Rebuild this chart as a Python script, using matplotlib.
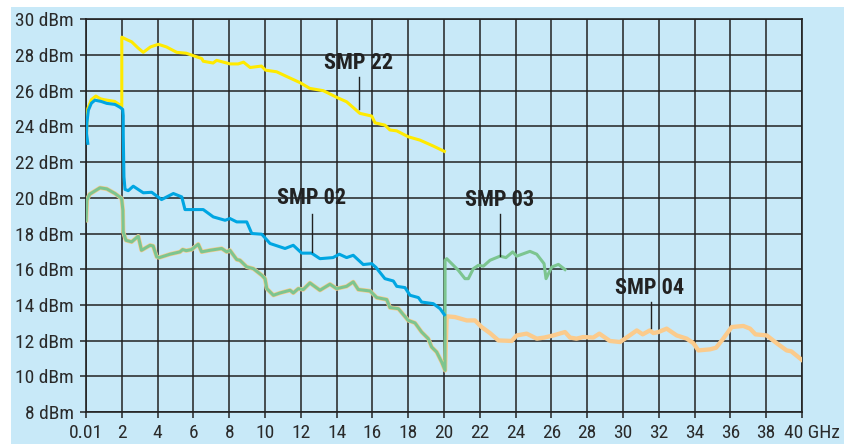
import matplotlib
matplotlib.use("Agg")
import matplotlib.pyplot as plt
from matplotlib.patches import Rectangle
from matplotlib.transforms import ScaledTranslation
from matplotlib import font_manager

# ---------------- data ----------------
xticks = [0, 2, 4, 6, 8, 10, 12, 14, 16, 18, 20, 22, 24, 26, 28, 30, 32, 34, 36, 38, 40]
xtick_labels = ["0.01", "2", "4", "6", "8", "10", "12", "14", "16", "18", "20",
                "22", "24", "26", "28", "30", "32", "34", "36", "38", "40 GHz"]
yticks = [8, 10, 12, 14, 16, 18, 20, 22, 24, 26, 28, 30]
ytick_labels = [f"{v} dBm" for v in yticks]

smp22_x = [0.02, 0.05, 0.1, 0.3, 0.55, 0.8, 1.0, 1.3, 1.6, 1.9, 2.0, 2.0, 2.3, 2.55, 2.9, 3.2,
           3.6, 4.04, 4.5, 5.07, 5.6, 6.0, 6.47, 6.55, 7.1, 7.3, 8.05, 8.5, 8.8, 9.17, 9.8,
           10.03, 10.65, 11.2, 11.96, 12.5, 13.26, 14.0, 14.56, 15.3, 15.96, 16.15, 16.7,
           16.98, 17.36, 18.0, 18.66, 19.4, 20.02]
smp22_y = [23.3, 24.3, 25.0, 25.5, 25.7, 25.55, 25.5, 25.45, 25.4, 25.2, 25.1, 29.0, 28.85, 28.74,
           28.4, 28.15, 28.45, 28.6, 28.45, 28.15, 28.1, 27.96, 27.8, 27.65, 27.55, 27.7, 27.5,
           27.5, 27.6, 27.3, 27.38, 27.15, 27.06, 26.8, 26.45, 26.13, 26.0, 25.63, 25.38,
           24.73, 24.58, 24.2, 24.07, 23.8, 23.75, 23.42, 23.23, 22.9, 22.6]

smp02_x = [0.1, 0.03, 0.05, 0.13, 0.3, 0.5, 0.84, 1.16, 1.62, 1.9, 2.05, 2.08, 2.08, 2.12,
           2.18, 2.36, 2.64, 3.2, 3.67, 4.22, 4.88, 5.35, 5.53, 6.0, 6.55, 7.11, 7.77, 8.04,
           8.42, 8.98, 9.26, 9.82, 10.28, 11.12, 11.58, 12.05, 12.6, 13.07, 13.8, 14.15,
           14.56, 14.93, 15.49, 15.96, 16.2, 16.7, 17.17, 17.36, 17.82, 18.1, 18.57, 18.75,
           19.4, 19.78, 20.02]
smp02_y = [23.05, 23.6, 24.2, 24.9, 25.3, 25.47, 25.4, 25.29, 25.23, 25.07, 24.95, 24.6, 23.6,
           21.17, 20.47, 20.4, 20.65, 20.28, 20.31, 19.9, 20.24, 20.05, 19.34, 19.34, 19.34,
           18.93, 18.74, 18.84, 18.65, 18.65, 18.0, 17.96, 17.44, 17.16, 17.34, 16.9, 16.9,
           16.59, 16.65, 16.84, 16.65, 16.78, 16.26, 16.31, 16.1, 15.47, 15.34, 15.04, 14.97,
           14.54, 14.41, 14.16, 14.07, 13.79, 13.45]

# common low band (shared by SMP 03 and SMP 04 up to 20 GHz)
low_x = [0.01, 0.05, 0.2, 0.41, 0.78, 1.16, 1.62, 1.99, 2.06, 2.08, 2.23, 2.55, 2.92, 3.1,
         3.58, 3.75, 3.95, 4.1, 4.69, 5.25, 5.4, 5.6, 5.9, 6.27, 6.46, 6.93, 7.58, 7.86,
         8.04, 8.42, 8.6, 8.98, 9.35, 9.82, 10.0, 10.1, 10.47, 10.84, 11.4, 11.58, 11.86,
         12.14, 12.51, 13.07, 13.63, 14.0, 14.56, 14.93, 15.21, 15.87, 16.24, 16.8, 16.98,
         17.45, 18.0, 18.38, 18.75, 19.12, 19.31, 19.59, 19.87, 20.06]
low_y = [18.74, 19.87, 20.2, 20.33, 20.56, 20.5, 20.24, 19.96, 19.3, 18.09, 17.62, 17.53, 17.85,
         17.06, 17.34, 17.3, 16.69, 16.65, 16.84, 16.97, 17.1, 17.04, 17.1, 17.4, 16.97, 17.06,
         17.16, 16.97, 17.06, 16.54, 16.5, 16.13, 16.03, 15.66, 15.47, 14.91, 14.54, 14.67,
         14.82, 14.67, 14.91, 14.86, 15.23, 14.82, 15.16, 14.91, 15.04, 15.29, 14.86, 14.78,
         14.41, 14.3, 13.85, 13.79, 13.13, 12.99, 12.48, 12.11, 11.64, 11.36, 10.8, 10.33]

smp03_hi_x = [20.06, 20.15, 20.8, 21.17, 21.36, 21.64, 21.92, 22.2, 22.57, 23.13, 23.46, 23.84,
              24.06, 24.8, 25.18, 25.59, 25.7, 25.88, 26.02, 26.39, 26.76]
smp03_hi_y = [16.5, 16.59, 15.94, 15.47, 15.47, 16.03, 16.22, 16.17, 16.5, 16.73, 16.65, 16.97,
              16.73, 17.0, 16.84, 16.31, 15.47, 15.84, 16.12, 16.27, 15.98]

smp04_hi_x = [20.15, 20.61, 21.27, 21.73, 22.1, 22.57, 23.04, 23.78, 24.06, 24.62, 25.18, 25.6,
              26.11, 26.76, 27.04, 27.4, 27.78, 28.34, 28.68, 29.27, 29.83, 30.1, 30.77, 31.1,
              31.5, 31.7, 31.98, 32.44, 33.0, 33.56, 33.93, 34.21, 34.86, 35.2, 35.6, 36.07,
              36.72, 37.1, 37.4, 38.03, 38.58, 39.14, 39.4, 39.98]
smp04_hi_y = [13.36, 13.32, 13.13, 13.13, 12.76, 12.42, 12.01, 11.98, 12.29, 12.39, 12.11, 12.17,
              12.29, 12.48, 12.17, 12.11, 12.2, 12.17, 12.39, 11.98, 11.92, 12.1, 12.57, 12.35,
              12.57, 12.42, 12.48, 12.67, 12.29, 12.11, 11.86, 11.45, 11.51, 11.6, 12.11, 12.76,
              12.82, 12.67, 12.35, 12.29, 11.86, 11.45, 11.4, 10.93]

labels = ["SMP 22", "SMP 02", "SMP 03", "SMP 04"]
label_pos = [(15.2, 27.53), (12.6, 19.98), (23.13, 19.87), (31.5, 14.97)]
leader = [(15.23, 26.75, 24.95), (12.6, 19.08, 16.97), (23.13, 19.08, 16.73), (31.57, 14.16, 12.72)]

# ---------------- style ----------------
BG = "#C8E9F8"
C22 = "#FFEA00"
C02 = "#00A6E2"
C03 = "#7CC590"
C04 = "#FBCB8C"
GRID = "#222222"

avail = {f.name for f in font_manager.fontManager.ttflist}
cond = "DejaVu Sans"
for cand in ["Roboto Condensed", "Archivo Narrow", "PT Sans Narrow", "Fira Sans Condensed",
             "Barlow Condensed", "Liberation Sans Narrow", "Open Sans Condensed"]:
    if cand in avail:
        cond = cand
        break
plt.rcParams["font.family"] = [cond, "DejaVu Sans"]

W, H = 845, 444
fig = plt.figure(figsize=(W / 100, H / 100), dpi=100)
fig.patch.set_facecolor("white")
fig.patches.append(Rectangle((11 / W, 0), 1 - 11 / W, (H - 7) / H, transform=fig.transFigure,
                             facecolor=BG, edgecolor="none", zorder=-10))

ax = fig.add_axes([86 / W, (H - 412) / H, (802 - 86) / W, (412 - 19.3) / H])
ax.set_facecolor(BG)
ax.set_xlim(0, 40)
ax.set_ylim(8, 30)
ax.set_xticks(xticks)
ax.set_xticklabels(xtick_labels)
ax.set_yticks(yticks)
ax.set_yticklabels(ytick_labels)
ax.grid(True, color=GRID, lw=1.1, zorder=0)
ax.set_axisbelow(True)
for s in ax.spines.values():
    s.set_color(GRID)
    s.set_linewidth(1.2)
ax.tick_params(axis="both", colors=GRID, length=4.3, width=1.1, direction="out",
               labelsize=14, labelcolor="#2a2a2a")
ax.tick_params(axis="x", pad=4)
ax.tick_params(axis="y", pad=4.5)

last = ax.get_xticklabels()[-1]
last.set_horizontalalignment("left")
last.set_transform(last.get_transform() + ScaledTranslation(-18 / 100, 0, fig.dpi_scale_trans))

lw = 2.2
ax.plot(smp22_x, smp22_y, color=C22, lw=lw, zorder=3, solid_joinstyle="round")
ax.plot(low_x + smp04_hi_x, low_y + smp04_hi_y, color=C04, lw=lw + 0.9, zorder=3,
        solid_joinstyle="round")
ax.plot(low_x + smp03_hi_x, low_y + smp03_hi_y, color=C03, lw=lw, zorder=4,
        solid_joinstyle="round")
ax.plot(smp02_x, smp02_y, color=C02, lw=lw, zorder=5, solid_joinstyle="round")

for lab, (tx, ty), (lx, ly0, ly1) in zip(labels, label_pos, leader):
    ax.text(tx, ty, lab, ha="center", va="center", fontsize=16, fontweight="bold",
            color="#222222", zorder=6)
    ax.plot([lx, lx], [ly0, ly1], color="#222222", lw=1.0, zorder=6)

fig.savefig("out.png", dpi=100, facecolor=fig.get_facecolor())
